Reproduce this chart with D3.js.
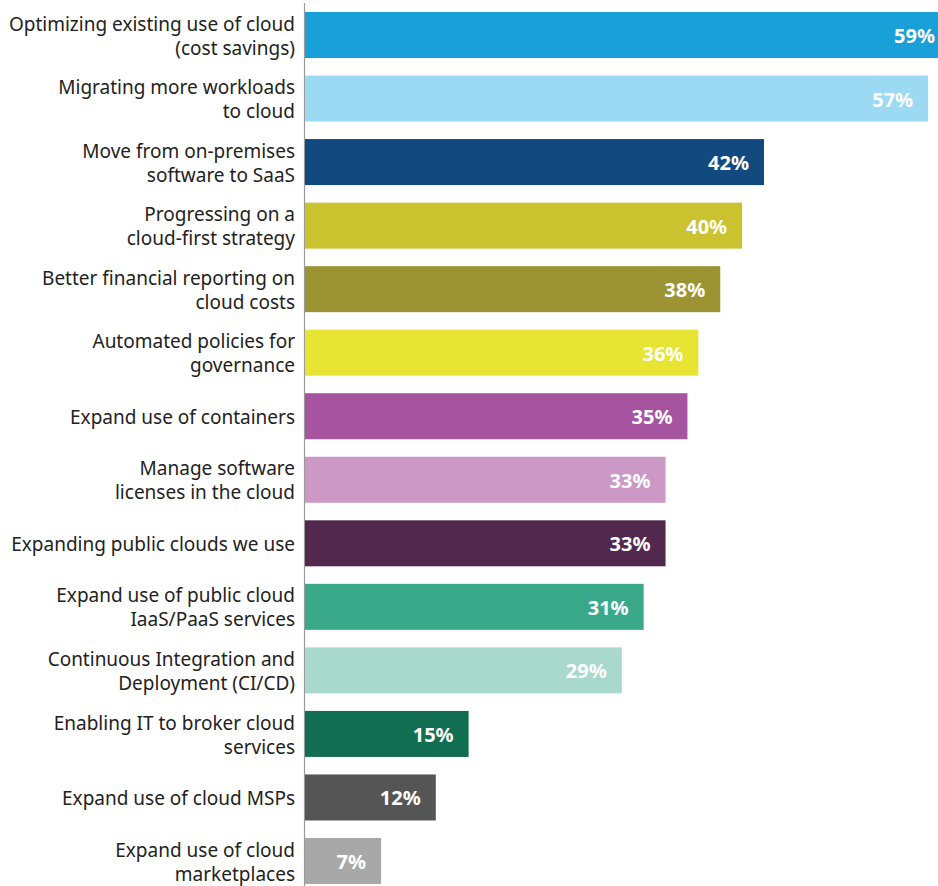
<!DOCTYPE html>
<html><head><meta charset="utf-8">
<script src="https://cdn.jsdelivr.net/npm/d3@7"></script>
<style>body{margin:0;background:#fff}svg{display:block}</style>
</head><body>
<script>
const categories = [
  ["Optimizing existing use of cloud","(cost savings)"],
  ["Migrating more workloads","to cloud"],
  ["Move from on-premises","software to SaaS"],
  ["Progressing on a","cloud-first strategy"],
  ["Better financial reporting on","cloud costs"],
  ["Automated policies for","governance"],
  ["Expand use of containers"],
  ["Manage software","licenses in the cloud"],
  ["Expanding public clouds we use"],
  ["Expand use of public cloud","IaaS/PaaS services"],
  ["Continuous Integration and","Deployment (CI/CD)"],
  ["Enabling IT to broker cloud","services"],
  ["Expand use of cloud MSPs"],
  ["Expand use of cloud","marketplaces"]
];
const values = [59,57,42,40,38,36,35,33,33,31,29,15,12,7];
const colors = ["#1aa0d9","#9cd9f2","#124a7f","#cbc22f","#9c9433","#e7e433","#a654a0","#cc98c6","#53284f","#3aa98a","#a8d9cc","#116e50","#555555","#a8a8a8"];

const W = 938, H = 886;
const x0 = 304.5;
const svg = d3.select("body").append("svg").attr("width", W).attr("height", H);
const x = d3.scaleLinear().domain([0, 59]).range([x0, 950]);
const y = d3.scaleBand().domain(d3.range(values.length)).range([-3.25, 899.25]).paddingInner(0.276).paddingOuter(0.24);

svg.append("line").attr("x1", x0).attr("x2", x0).attr("y1", 3).attr("y2", H)
  .attr("stroke", "#9a9a9a").attr("stroke-width", 1.2);

const g = svg.selectAll("g.bar").data(values).join("g");
g.append("rect")
  .attr("x", x0 + 0.5).attr("y", (d,i) => y(i))
  .attr("width", d => x(d) - x0 - 0.5).attr("height", y.bandwidth())
  .attr("fill", (d,i) => colors[i]);
g.append("text")
  .attr("x", d => x(d) - 15).attr("y", (d,i) => y(i) + y.bandwidth()/2)
  .attr("dy", "0.4em").attr("text-anchor", "end")
  .attr("font-family", "'Noto Sans', sans-serif").attr("font-weight", 700).attr("font-size", 20)
  .attr("fill", "#fff").text(d => d + "%");

svg.selectAll("text.lab").data(categories).join("text")
  .attr("class","lab")
  .attr("font-family", "'Noto Sans', sans-serif").attr("font-size", 19).attr("fill", "#222")
  .attr("text-anchor", "end")
  .each(function(lines, i) {
    const cy = y(i) + y.bandwidth()/2;
    const t = d3.select(this);
    lines.forEach((ln, k) => {
      const off = (k - (lines.length - 1) / 2) * 24;
      t.append("tspan").attr("x", 295).attr("y", cy + off).attr("dy", "0.4em").text(ln);
    });
  });
</script>
</body></html>
